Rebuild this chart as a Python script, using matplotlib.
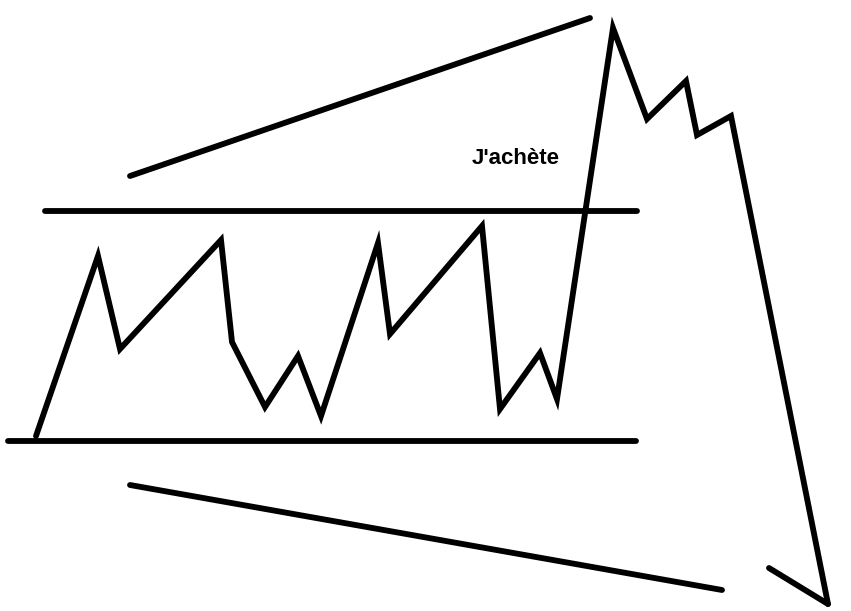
import matplotlib
matplotlib.use("Agg")
import matplotlib.pyplot as plt

# prix (coordonnées du croquis, y vers le bas)
prix_x = [36, 98, 120, 221, 232, 265, 298, 321, 378, 390, 482, 500, 540, 557,
          613, 647, 686, 697, 731, 828]
prix_y = [436, 256, 349, 240, 342, 407, 356, 416, 243, 334, 226, 409, 353, 399,
          28, 119, 81, 135, 116, 604]

# pointe de la flèche
fleche_x = [769, 828]
fleche_y = [568, 604]

# lignes de canal
resistance_x = [45, 637]
resistance_y = [211, 211]
support_x = [8, 636]
support_y = [441, 441]
haut_x = [130, 590]
haut_y = [176, 18]
bas_x = [130, 722]
bas_y = [485, 590]

fig = plt.figure(figsize=(8.51, 6.11), dpi=100)
ax = fig.add_axes([0, 0, 1, 1])
ax.set_xlim(0, 851)
ax.set_ylim(611, 0)
ax.axis('off')

lw = 4.2
for xs, ys in [(resistance_x, resistance_y), (support_x, support_y),
               (haut_x, haut_y), (bas_x, bas_y)]:
    ax.plot(xs, ys, color='black', linewidth=lw, solid_capstyle='round')

ax.plot(prix_x, prix_y, color='black', linewidth=lw, solid_joinstyle='miter',
        solid_capstyle='round')
ax.plot(fleche_x, fleche_y, color='black', linewidth=lw, solid_capstyle='round')

ax.text(516, 158, "J'achète", fontsize=16, fontweight='bold',
        family='Liberation Sans', ha='center', va='center')

fig.savefig('out.png', dpi=100, facecolor='white')
